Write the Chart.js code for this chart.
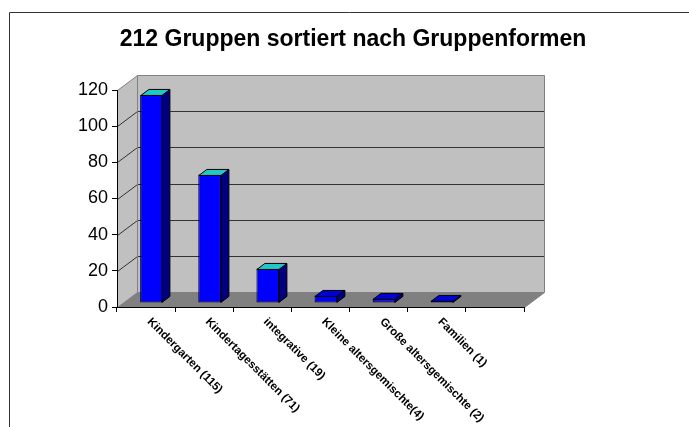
<!DOCTYPE html>
<html>
<head>
<meta charset="utf-8">
<script src="https://cdn.jsdelivr.net/npm/chart.js@4/dist/chart.umd.min.js"></script>
<style>
  html, body { margin: 0; padding: 0; background: #fff; }
  canvas { display: block; }
</style>
</head>
<body>
<canvas id="c" width="689" height="427"></canvas>
<script>
// ---- data ----
const chartTitle = '212 Gruppen sortiert nach Gruppenformen';
const categories = [
  'Kindergarten (115)',
  'Kindertagesstätten (71)',
  'integrative (19)',
  'Kleine altersgemischte(4)',
  'Große altersgemischte (2)',
  'Familien (1)',
  ''
];
const counts = [115, 71, 19, 4, 2, 1, null];
const yMin = 0;
const yMax = 120;
const yStep = 20;

// ---- style ----
const FONT = '"Liberation Sans", Arial, Helvetica, sans-serif';
const DEPTH = { x: 20, y: -15 };
const BAR_FRONT = 0.27;
const BAR_BACK = 0.67;
const WALL = '#c0c0c0';
const FLOOR = '#808080';
const EDGE = '#808080';
const GRID = '#333333';
const FRONT = '#0000ff';
const SIDE = '#000080';
const TOP_TALL = '#22c8c8';
const TOP_SHORT = '#0000d0';

function poly(ctx, pts, fill, stroke) {
  ctx.beginPath();
  ctx.moveTo(pts[0][0], pts[0][1]);
  for (let i = 1; i < pts.length; i++) ctx.lineTo(pts[i][0], pts[i][1]);
  ctx.closePath();
  if (fill) { ctx.fillStyle = fill; ctx.fill(); }
  if (stroke) { ctx.strokeStyle = stroke; ctx.stroke(); }
}
function line(ctx, pts, color) {
  ctx.beginPath();
  ctx.moveTo(pts[0][0], pts[0][1]);
  for (let i = 1; i < pts.length; i++) ctx.lineTo(pts[i][0], pts[i][1]);
  ctx.strokeStyle = color;
  ctx.stroke();
}

const threeD = {
  id: 'threeD',
  beforeDraw(chart) {
    const { ctx, chartArea: a } = chart;
    const y = chart.scales.y;
    ctx.save();
    ctx.fillStyle = '#fff';
    ctx.fillRect(0, 0, chart.width, chart.height);
    ctx.lineWidth = 1;
    // outer frame
    line(ctx, [[9.5, chart.height], [9.5, 12.5], [chart.width, 12.5]], '#333333');
    // title
    ctx.fillStyle = '#000';
    ctx.font = 'bold 23px ' + FONT;
    ctx.textAlign = 'center';
    ctx.textBaseline = 'middle';
    ctx.fillText(chartTitle, 353, 40);

    const L = a.left + 0.5, R = a.right + 0.5, T = a.top + 0.5, B = a.bottom + 0.5;
    const dx = DEPTH.x, dy = DEPTH.y;
    // back wall
    poly(ctx, [[L + dx, T + dy], [R + dx, T + dy], [R + dx, B + dy], [L + dx, B + dy]], WALL);
    // side wall
    poly(ctx, [[L, T], [L + dx, T + dy], [L + dx, B + dy], [L, B]], WALL);
    // floor
    poly(ctx, [[L, B], [L + dx, B + dy], [R + dx, B + dy], [R, B]], FLOOR);
    // gridlines
    y.ticks.forEach(t => {
      if (t.value === yMin || t.value === yMax) return;
      const py = Math.round(y.getPixelForValue(t.value)) + 0.5;
      line(ctx, [[L, py], [L + dx, py + dy], [R + dx, py + dy]], GRID);
    });
    // wall edges
    line(ctx, [[L, T], [L + dx, T + dy], [R + dx, T + dy], [R + dx, B + dy], [R, B]], EDGE);
    line(ctx, [[L + dx, T + dy], [L + dx, B + dy], [R + dx, B + dy]], EDGE);
    line(ctx, [[L, B], [L + dx, B + dy]], EDGE);
    ctx.restore();
  },
  beforeDatasetsDraw(chart) {
    chart.ctx.save();
    chart.ctx.translate(DEPTH.x * BAR_FRONT, DEPTH.y * BAR_FRONT);
  },
  afterDatasetsDraw(chart) {
    const ctx = chart.ctx;
    const bdx = DEPTH.x * (BAR_BACK - BAR_FRONT);
    const bdy = DEPTH.y * (BAR_BACK - BAR_FRONT);
    ctx.lineWidth = 1;
    const meta = chart.getDatasetMeta(0);
    meta.data.forEach((bar, i) => {
      const v = counts[i];
      if (v === null || v === undefined) return;
      const p = bar.getProps(['x', 'y', 'base', 'width'], true);
      const l = Math.round(p.x - p.width / 2) + 0.5;
      const r = Math.round(p.x + p.width / 2) - 0.5;
      const t = Math.round(p.y) + 0.5;
      const b = Math.round(p.base) - 0.5;
      poly(ctx, [[r, t], [r + bdx, t + bdy], [r + bdx, b + bdy], [r, b]], SIDE, '#000');
      poly(ctx, [[l, t], [l + bdx, t + bdy], [r + bdx, t + bdy], [r, t]], v >= 10 ? TOP_TALL : TOP_SHORT, '#000');
    });
    ctx.restore();
  },
  afterDraw(chart) {
    const ctx = chart.ctx;
    const x = chart.scales.x;
    ctx.save();
    ctx.fillStyle = '#000';
    ctx.font = 'bold 11.5px ' + FONT;
    ctx.textAlign = 'left';
    ctx.textBaseline = 'middle';
    categories.forEach((lab, i) => {
      if (!lab) return;
      const px = x.getPixelForValue(i);
      ctx.save();
      ctx.translate(px + 3, x.top + 13);
      ctx.rotate(Math.PI / 4);
      ctx.fillText(lab, 0, 0);
      ctx.restore();
    });
    ctx.restore();
  }
};

new Chart(document.getElementById('c'), {
  type: 'bar',
  data: {
    labels: categories,
    datasets: [{
      data: counts,
      backgroundColor: FRONT,
      borderColor: '#000',
      borderWidth: 1,
      borderSkipped: false,
      categoryPercentage: 1,
      barPercentage: 0.39,
      clip: false
    }]
  },
  options: {
    responsive: false,
    devicePixelRatio: 1,
    animation: false,
    layout: { padding: { top: 90, right: 165, left: 0, bottom: 0 } },
    plugins: {
      legend: { display: false },
      title: { display: false },
      tooltip: { enabled: false }
    },
    scales: {
      x: {
        offset: true,
        grid: { offset: true, drawOnChartArea: false, drawTicks: true, tickLength: 5, color: '#000' },
        border: { display: true, color: '#000', width: 1 },
        ticks: { display: false },
        afterFit(scale) { scale.height = 120; }
      },
      y: {
        min: yMin,
        max: yMax,
        ticks: { stepSize: yStep, color: '#000', padding: 4, font: { family: FONT, size: 18 } },
        grid: { drawOnChartArea: false, drawTicks: true, tickLength: 5, color: '#000' },
        border: { display: true, color: '#000', width: 1 },
        afterFit(scale) { scale.width = 117; }
      }
    }
  },
  plugins: [threeD]
});
</script>
</body>
</html>
